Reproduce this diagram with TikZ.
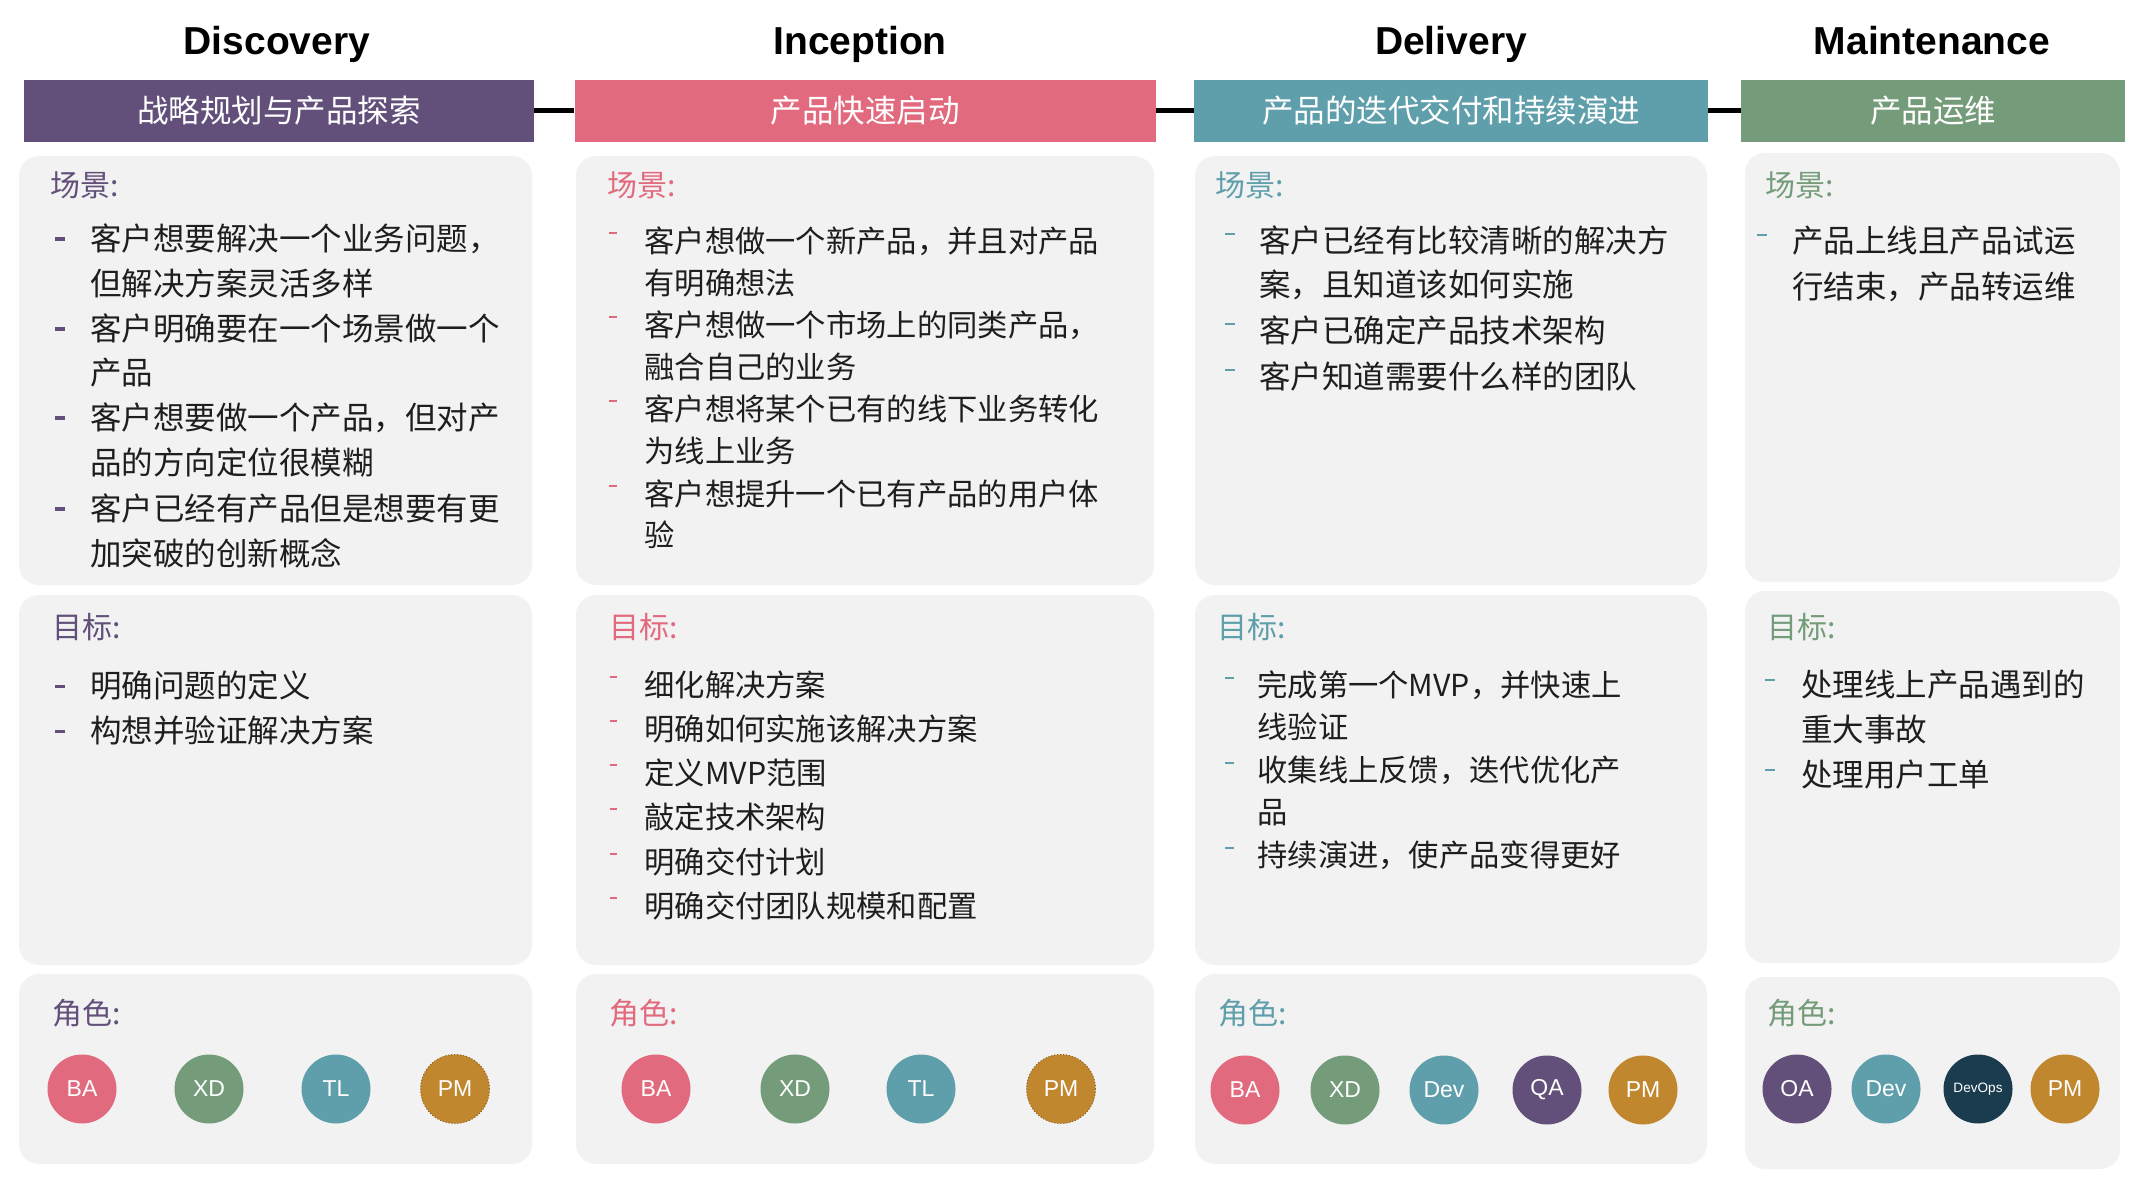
\documentclass[tikz,border=0pt]{standalone}
\usepackage{fontspec}
\setmainfont{Liberation Sans}
\newfontfamily\cjk{Noto Sans CJK SC}
\definecolor{cPurple}{RGB}{98,80,122}
\definecolor{cPink}{RGB}{226,106,126}
\definecolor{cTeal}{RGB}{95,159,171}
\definecolor{cGreen}{RGB}{117,156,122}
\definecolor{cGold}{RGB}{192,135,47}
\definecolor{cGoldDark}{RGB}{140,95,30}
\definecolor{cNavy}{RGB}{27,60,78}
\definecolor{cPanel}{RGB}{242,242,242}
\definecolor{cText}{RGB}{30,30,30}
\tikzset{
  x=0.5pt, y=-0.5pt,
  ttl/.style={inner sep=0, anchor=base, font=\fontsize{19.5pt}{20pt}\selectfont\bfseries},
  barbox/.style={rectangle, inner sep=0, minimum height=31pt, text=white,
    font=\cjk\fontsize{15.75pt}{16pt}\selectfont, text height=13.86pt, text depth=1.89pt},
  body/.style={inner sep=0, anchor=west, text=cText,
    font=\cjk\fontsize{15.75pt}{16pt}\selectfont, text height=13.86pt, text depth=1.89pt},
  bodys/.style={inner sep=0, anchor=west, text=cText,
    font=\cjk\fontsize{15.15pt}{16pt}\selectfont, text height=13.33pt, text depth=1.82pt},
  lab/.style={inner sep=0, anchor=west,
    font=\cjk\fontsize{15pt}{16pt}\selectfont, text height=13.2pt, text depth=1.8pt},
  panel/.style={fill=cPanel, rounded corners=10pt},
  role/.style={circle, inner sep=0, minimum size=34.5pt, text=white,
    font=\fontsize{11.5pt}{12pt}\selectfont},
  pmrole/.style={role, fill=cGold, draw=cGoldDark, densely dotted, line width=0.5pt},
  link/.style={line width=2.5pt, black},
}
\begin{document}
\begin{tikzpicture}
\useasboundingbox[fill=white] (0,0) rectangle (2140,1192);

% ---- titles
\node[ttl] (tD) at (277,55) {Discovery};
\node[ttl] (tI) at (860,55) {Inception};
\node[ttl] (tL) at (1451,55) {Delivery};
\node[ttl] (tM) at (1932,55) {Maintenance};

% ---- phase bars
\node[barbox, fill=cPurple, minimum width=255pt] (bD) at (279,111) {战略规划与产品探索};
\node[barbox, fill=cPink, minimum width=290.5pt] (bI) at (865,111) {产品快速启动};
\node[barbox, fill=cTeal, minimum width=257pt] (bL) at (1451,111) {产品的迭代交付和持续演进};
\node[barbox, fill=cGreen, minimum width=192pt] (bM) at (1933,111) {产品运维};
\draw[link] (bD.east) -- (bI.west);
\draw[link] (bI.east) -- (bL.west);
\draw[link] (bL.east) -- (bM.west);

% ---- panels
\fill[panel] (19,156) rectangle (532,585);
\fill[panel] (19,595) rectangle (532,965);
\fill[panel] (19,974) rectangle (532,1164);
\fill[panel] (576,156) rectangle (1154,585);
\fill[panel] (576,595) rectangle (1154,965);
\fill[panel] (576,974) rectangle (1154,1164);
\fill[panel] (1195,156) rectangle (1707,585);
\fill[panel] (1195,595) rectangle (1707,965);
\fill[panel] (1195,974) rectangle (1707,1164);
\fill[panel] (1745,153) rectangle (2120,582);
\fill[panel] (1745,591) rectangle (2120,963);
\fill[panel] (1745,977) rectangle (2120,1169);

% ---- section labels
\node[lab, text=cPurple] (lDs) at (50,185) {场景:};
\node[lab, text=cPurple] (lDg) at (52,627) {目标:};
\node[lab, text=cPurple] (lDr) at (52,1013) {角色:};
\node[lab, text=cPink] (lIs) at (607,185) {场景:};
\node[lab, text=cPink] (lIg) at (609,627) {目标:};
\node[lab, text=cPink] (lIr) at (609,1013) {角色:};
\node[lab, text=cTeal] (lLs) at (1215,185) {场景:};
\node[lab, text=cTeal] (lLg) at (1217,627) {目标:};
\node[lab, text=cTeal] (lLr) at (1218,1013) {角色:};
\node[lab, text=cGreen] (lMs) at (1765,185) {场景:};
\node[lab, text=cGreen] (lMg) at (1767,627) {目标:};
\node[lab, text=cGreen] (lMr) at (1767,1013) {角色:};

% ---- Discovery scenarios
\node[body] (ds1) at (90,239) {客户想要解决一个业务问题，};
\node[body] (ds2) at (90,284) {但解决方案灵活多样};
\node[body] (ds3) at (90,329) {客户明确要在一个场景做一个};
\node[body] (ds4) at (90,373) {产品};
\node[body] (ds5) at (90,418) {客户想要做一个产品，但对产};
\node[body] (ds6) at (90,463) {品的方向定位很模糊};
\node[body] (ds7) at (90,509) {客户已经有产品但是想要有更};
\node[body] (ds8) at (90,554) {加突破的创新概念};
\foreach \y in {239,329,418,509} \fill[cPurple] (55,\y-3.5/2) rectangle (65,\y+3.5/2);
% Discovery goals
\node[body] (dg1) at (90,686) {明确问题的定义};
\node[body] (dg2) at (90,731) {构想并验证解决方案};
\foreach \y in {686,731} \fill[cPurple] (55,\y-3/2) rectangle (65,\y+3/2);

% ---- Inception scenarios
\node[bodys] (is1) at (644,241) {客户想做一个新产品，并且对产品};
\node[bodys] (is2) at (644,283) {有明确想法};
\node[bodys] (is3) at (644,325) {客户想做一个市场上的同类产品，};
\node[bodys] (is4) at (644,367) {融合自己的业务};
\node[bodys] (is5) at (644,409) {客户想将某个已有的线下业务转化};
\node[bodys] (is6) at (644,451) {为线上业务};
\node[bodys] (is7) at (644,494) {客户想提升一个已有产品的用户体};
\node[bodys] (is8) at (644,535) {验};
\foreach \y in {241,325,409,494} \fill[cPink] (609,\y-9) rectangle (617,\y-7);
% Inception goals
\node[bodys] (ig1) at (644,685) {细化解决方案};
\node[bodys] (ig2) at (644,729) {明确如何实施该解决方案};
\node[bodys] (ig3) at (644,773) {定义MVP范围};
\node[bodys] (ig4) at (644,817) {敲定技术架构};
\node[bodys] (ig5) at (644,862) {明确交付计划};
\node[bodys] (ig6) at (644,906) {明确交付团队规模和配置};
\foreach \y in {685,729,773,817,862,906} \fill[cPink] (610,\y-9) rectangle (617,\y-7);

% ---- Delivery scenarios
\node[body] (ls1) at (1259,241) {客户已经有比较清晰的解决方};
\node[body] (ls2) at (1259,285) {案，且知道该如何实施};
\node[body] (ls3) at (1259,331) {客户已确定产品技术架构};
\node[body] (ls4) at (1259,377) {客户知道需要什么样的团队};
\foreach \y in {241,331,377} \fill[cTeal] (1225,\y-8) rectangle (1235,\y-6);
% Delivery goals
\node[bodys] (lg1) at (1257,685) {完成第一个MVP，并快速上};
\node[bodys] (lg2) at (1257,727) {线验证};
\node[bodys] (lg3) at (1257,770) {收集线上反馈，迭代优化产};
\node[bodys] (lg4) at (1257,812) {品};
\node[bodys] (lg5) at (1257,855) {持续演进，使产品变得更好};
\foreach \y in {685,770,855} \fill[cTeal] (1225,\y-8) rectangle (1234,\y-6);

% ---- Maintenance scenarios
\node[body] (ms1) at (1792,241) {产品上线且产品试运};
\node[body] (ms2) at (1792,287) {行结束，产品转运维};
\fill[cTeal] (1757,241-7) rectangle (1767,241-5);
% Maintenance goals
\node[body] (mg1) at (1801,685) {处理线上产品遇到的};
\node[body] (mg2) at (1801,730) {重大事故};
\node[body] (mg3) at (1801,775) {处理用户工单};
\foreach \y in {685,775} \fill[cTeal] (1765,\y-6) rectangle (1775,\y-4);

% ---- roles
\node[role, fill=cPink] (rD1) at (82,1089) {BA};
\node[role, fill=cGreen] (rD2) at (209,1089) {XD};
\node[role, fill=cTeal] (rD3) at (336,1089) {TL};
\node[pmrole] (rD4) at (455,1089) {PM};

\node[role, fill=cPink] (rI1) at (656,1089) {BA};
\node[role, fill=cGreen] (rI2) at (795,1089) {XD};
\node[role, fill=cTeal] (rI3) at (921,1089) {TL};
\node[pmrole] (rI4) at (1061,1089) {PM};

\node[role, fill=cPink] (rL1) at (1245,1090) {BA};
\node[role, fill=cGreen] (rL2) at (1345,1090) {XD};
\node[role, fill=cTeal] (rL3) at (1444,1090) {Dev};
\node[role, fill=cPurple] (rL4) at (1547,1090) {QA};
\node[role, fill=cGold] (rL5) at (1643,1090) {PM};

\node[role, fill=cPurple] (rM1) at (1797,1089) {OA};
\node[role, fill=cTeal] (rM2) at (1886,1089) {Dev};
\node[role, fill=cNavy, font=\fontsize{6.8pt}{7pt}\selectfont] (rM3) at (1978,1089) {DevOps};
\node[role, fill=cGold] (rM4) at (2065,1089) {PM};
\end{tikzpicture}
\end{document}
